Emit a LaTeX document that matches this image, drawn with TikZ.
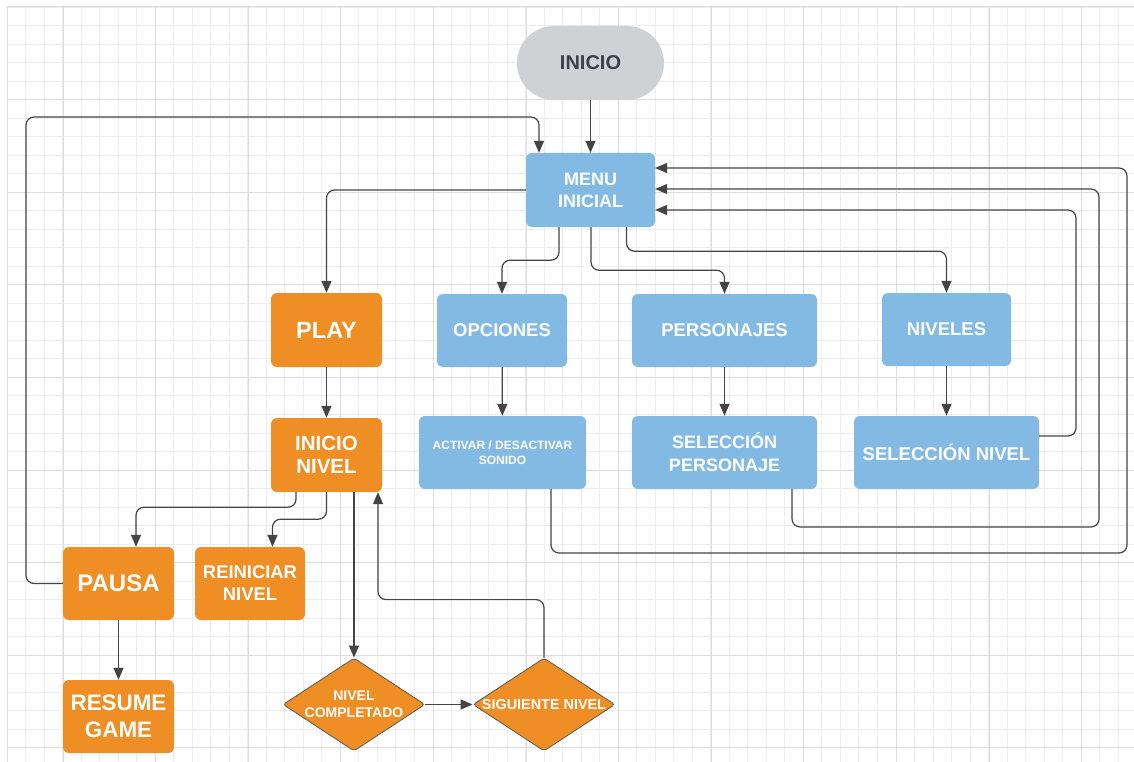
\documentclass[tikz,border=0pt]{standalone}
\usepackage{fontspec}
\setmainfont{Liberation Sans}
\usetikzlibrary{shapes.geometric,arrows.meta}

\definecolor{orangefill}{HTML}{EF8E24}
\definecolor{bluefill}{HTML}{83BAE3}
\definecolor{startfill}{HTML}{D0D1D4}
\definecolor{starttext}{HTML}{3A414A}
\definecolor{linecol}{HTML}{444444}
\definecolor{minorgrid}{HTML}{EDEDED}
\definecolor{majorgrid}{HTML}{DCDCDC}

\tikzset{
  fs/.style 2 args={font=\bfseries\fontsize{#1}{#2}\selectfont},
  block/.style={rectangle, rounded corners=6pt, inner sep=0pt, align=center, text=white, minimum height=73pt},
  orangeblock/.style={block, fill=orangefill},
  blueblock/.style={block, fill=bluefill},
  decision/.style={diamond, shape aspect=1.53, rounded corners=3pt, inner sep=0pt, align=center, text=white, fill=orangefill, draw=black!65, line width=0.8pt, minimum width=142pt, minimum height=93pt},
  flow/.style={draw=linecol, line width=1.2pt, rounded corners=8pt, -{Triangle[length=12pt,width=10pt]}},
}

\begin{document}
\begin{tikzpicture}[x=1pt,y=-1pt]

  \useasboundingbox (0,0) rectangle (1134,762);
  \fill[white] (0,0) rectangle (1134,762);

  % grid
  \foreach \i in {0,...,60}
    \draw[minorgrid, line width=0.9pt] ({7+18.52*\i},7) -- ({7+18.52*\i},762);
  \foreach \j in {0,...,40}
    \draw[minorgrid, line width=0.9pt] (7,{7+18.52*\j}) -- (1134,{7+18.52*\j});
  \foreach \k in {0,...,11}
    \draw[majorgrid, line width=1pt] ({63+92.6*\k},7) -- ({63+92.6*\k},762);
  \foreach \k in {0,...,8}
    \draw[majorgrid, line width=1pt] (7,{7+92.6*\k}) -- (1134,{7+92.6*\k});
  \draw[majorgrid, line width=1pt] (7,7) -- (7,762);

  \node[rectangle, rounded corners=37pt, fill=startfill, text=starttext, fs={20}{24}, minimum width=147pt, minimum height=74pt] (inicio) at (590.5,63) {INICIO};
  \node[blueblock, fs={18}{22}, minimum width=129pt, minimum height=74pt] (menu) at (590.5,190) {MENU\\INICIAL};

  \node[orangeblock, fs={23.5}{28}, minimum width=111pt, minimum height=74pt] (play) at (326.5,330) {PLAY};
  \node[blueblock, fs={18.5}{22}, minimum width=130pt] (opciones) at (502,330.5) {OPCIONES};
  \node[blueblock, fs={18.5}{22}, minimum width=185pt] (personajes) at (724.5,330.5) {PERSONAJES};
  \node[blueblock, fs={18.5}{22}, minimum width=129pt] (niveles) at (946.5,329.5) {NIVELES};

  \node[blueblock, fs={12}{15}, minimum width=167pt] (activar) at (502.5,452.5) {ACTIVAR / DESACTIVAR\\SONIDO};
  \node[blueblock, fs={18}{23}, minimum width=185pt] (selperso) at (724.5,452.5) {SELECCIÓN\\PERSONAJE};
  \node[blueblock, fs={18.5}{22}, minimum width=185pt] (selnivel) at (946.5,452.5) {SELECCIÓN NIVEL};

  \node[orangeblock, fs={20.5}{23}, minimum width=111pt, minimum height=74pt] (inicionivel) at (326.5,455) {INICIO\\NIVEL};
  \node[orangeblock, fs={24}{28}, minimum width=111pt] (pausa) at (118.5,583.5) {PAUSA};
  \node[orangeblock, fs={18.4}{22}, minimum width=110pt] (reiniciar) at (250,583.5) {REINICIAR\\NIVEL};
  \node[orangeblock, fs={22.4}{27}, minimum width=111pt] (resume) at (118.5,716.5) {RESUME\\GAME};

  \node[decision, fs={14}{17}] (completado) at (354,704.5) {NIVEL\\COMPLETADO};
  \node[decision, fs={14.4}{17}] (siguiente) at (544,704.5) {SIGUIENTE NIVEL};

  % menu
  \draw[flow] (inicio) -- (menu);
  \draw[flow] (pausa.west) -| (26,117) -| ([xshift=-51.5pt]menu.north);
  \draw[flow] (menu.west) -| (play.north);
  \draw[flow] ([xshift=-31.5pt]menu.south) -- ++(0,33) -| (opciones.north);
  \draw[flow] ([xshift=0.5pt]menu.south) -- ++(0,43) -| (personajes.north);
  \draw[flow] ([xshift=36pt]menu.south) -- ++(0,24) -| (niveles.north);

  \draw[flow] (opciones) -- (activar);
  \draw[flow] (personajes) -- (selperso);
  \draw[flow] (niveles) -- (selnivel);

  % back to menu
  \draw[flow] ([xshift=48.5pt]activar.south) |- (1127,553) |- ([yshift=22pt]menu.east);
  \draw[flow] ([xshift=67.5pt]selperso.south) |- (1099,527) |- ([yshift=1pt]menu.east);
  \draw[flow] ([yshift=16.5pt]selnivel.east) -| (1076,210) -- ([yshift=-20pt]menu.east);

  % game
  \draw[flow] (play) -- (inicionivel);
  \draw[flow] ([xshift=-30.5pt]inicionivel.south) -- ++(0,15) -| ([xshift=17.5pt]pausa.north);
  \draw[flow] (inicionivel.south) -- ++(0,27) -| ([xshift=22.5pt]reiniciar.north);
  \draw[flow] ([xshift=27.5pt]inicionivel.south) -- (completado.north);
  \draw[flow] (completado) -- (siguiente);
  \draw[flow] (siguiente.north) -- ++(0,-58) -| ([xshift=51.5pt]inicionivel.south);
  \draw[flow] (pausa) -- (resume);

\end{tikzpicture}
\end{document}
